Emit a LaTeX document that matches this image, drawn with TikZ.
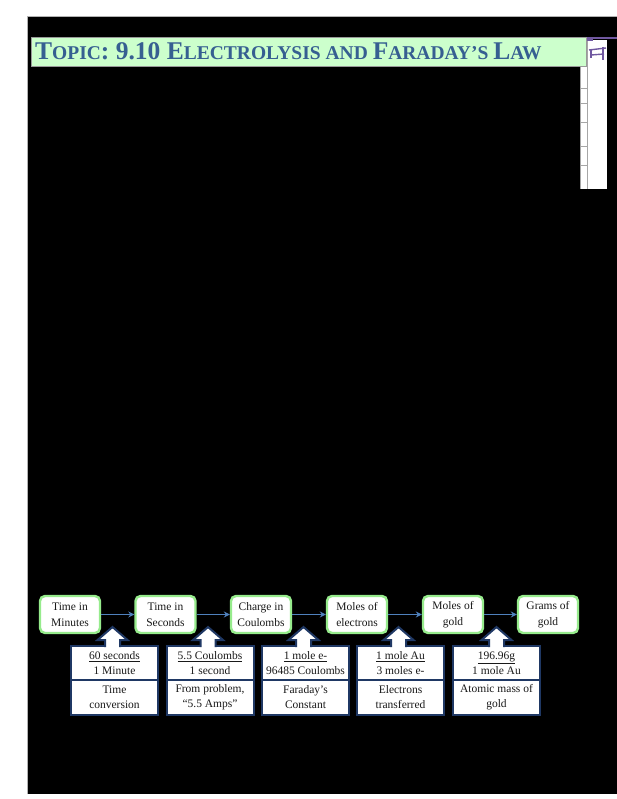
\documentclass[tikz,border=0pt]{standalone}
\usepackage{fontspec}
\setmainfont{Liberation Serif}
\usepackage{tikz}
\usetikzlibrary{arrows.meta}
\usetikzlibrary{positioning}

\definecolor{titleblue}{RGB}{54,95,145}
\definecolor{titlegreen}{RGB}{204,255,204}
\definecolor{boxgreen}{RGB}{150,235,140}
\definecolor{flowblue}{RGB}{79,129,189}
\definecolor{navy}{RGB}{31,56,100}
\definecolor{tabpurple}{RGB}{112,88,160}

\newcommand{\titlecap}[1]{{\fontsize{25.5}{25.5}\selectfont #1}}
\newcommand{\titlesc}[1]{{\fontsize{19.5}{19.5}\selectfont #1}}

\tikzset{
  quantity/.style={draw=boxgreen, line width=2.4pt, rounded corners=5pt, fill=white,
    minimum width=60pt, minimum height=37pt, inner sep=1pt, align=center,
    font=\fontsize{11.5}{15.5}\selectfont, text=black!90},
  factor/.style={draw=navy, line width=2pt, fill=white, minimum width=87pt,
    minimum height=34pt, inner sep=1pt, align=center,
    font=\fontsize{11.5}{15}\selectfont, text=black!90},
  flow/.style={draw=flowblue, line width=1.2pt, -{Stealth[length=6pt,width=6pt]}},
  blockarrow/.style={draw=navy, line width=2pt, fill=white, line join=miter}
}

\begin{document}
\begin{tikzpicture}[x=1pt,y=-1pt]
\useasboundingbox (0,0) rectangle (617,799);
\fill[white] (0,0) rectangle (617,799);
\fill[black] (27,17) rectangle (617,794);
\draw[gray!60, line width=1pt] (27,794) -- (27,17) -- (617,17);

\fill[white] (587,40) rectangle (607,189);
\fill[white] (580,67) rectangle (587,189);
\draw[gray!70, line width=0.8pt] (580,67) -- (580,189);
\draw[gray!70, line width=0.8pt] (587,40) -- (587,189);
\draw[gray!70, line width=0.8pt] (580,88) -- (587,88);
\draw[gray!70, line width=0.8pt] (580,103) -- (587,103);
\draw[gray!70, line width=0.8pt] (580,122) -- (587,122);
\draw[gray!70, line width=0.8pt] (580,146) -- (587,146);
\draw[gray!70, line width=0.8pt] (580,165) -- (587,165);
\draw[tabpurple, line width=1.2pt] (586,38) -- (617,38);
\fill[tabpurple] (586,37) rectangle (593,41);
\draw[tabpurple, line width=1.4pt] (589,50) -- (606,48);
\draw[tabpurple, line width=1.4pt] (591,55) -- (604,54);
\draw[tabpurple, line width=1.4pt] (603,47) -- (603,60);
\draw[tabpurple, line width=1.4pt] (591,50) -- (591,58);

\draw[gray!80, line width=1pt, fill=titlegreen] (31,38) rectangle (586,67);
\node[anchor=base west, inner sep=0pt, text=titleblue, font=\bfseries] (topic) at (35,60)
  {\titlecap{T}\titlesc{OPIC}\titlecap{: 9.10 E}\titlesc{LECTROLYSIS AND }\titlecap{F}\titlesc{ARADAY’S }\titlecap{L}\titlesc{AW}};

\node[quantity] (minutes) at (70,614.5) {Time in\\Minutes};
\node[quantity] (seconds) at (165.5,614.5) {Time in\\Seconds};
\node[quantity] (coulombs) at (261,614.5) {Charge in\\Coulombs};
\node[quantity] (electrons) at (357,614.5) {Moles of\\electrons};
\node[quantity] (molesau) at (453,614.5) {Moles of\\gold};
\node[quantity] (gramsau) at (548,614.5) {Grams of\\gold};

\draw[flow] (minutes) -- (seconds);
\draw[flow] (seconds) -- (coulombs);
\draw[flow] (coulombs) -- (electrons);
\draw[flow] (electrons) -- (molesau);
\draw[flow] (molesau) -- (gramsau);

\node[factor] (ratio1) at (114.5,663) {\underline{60 seconds}\\1 Minute};
\node[factor, minimum height=35pt, below=-2pt of ratio1] (why1) {Time\\conversion};
\node[factor] (ratio2) at (210,663) {\underline{5.5 Coulombs}\\1 second};
\node[factor, minimum height=35pt, below=-2pt of ratio2] (why2) {From problem,\\“5.5 Amps”};
\node[factor] (ratio3) at (305.5,663) {\underline{1 mole e-}\\96485 Coulombs};
\node[factor, minimum height=35pt, below=-2pt of ratio3] (why3) {Faraday’s\\Constant};
\node[factor] (ratio4) at (400.5,663) {\underline{1 mole Au}\\3 moles e-};
\node[factor, minimum height=35pt, below=-2pt of ratio4] (why4) {Electrons\\transferred};
\node[factor] (ratio5) at (496.5,663) {\underline{196.96g}\\1 mole Au};
\node[factor, minimum height=35pt, below=-2pt of ratio5] (why5) {Atomic mass of\\gold};

\draw[blockarrow] ([xshift=-9.5pt,yshift=-2pt]ratio1.north) -- ++(0,-7) -- ++(-7.5,0) -- ++(15,-13) -- ++(15,13) -- ++(-7.5,0) -- ++(0,7);
\draw[blockarrow] ([xshift=-9.5pt,yshift=-2pt]ratio2.north) -- ++(0,-7) -- ++(-7.5,0) -- ++(15,-13) -- ++(15,13) -- ++(-7.5,0) -- ++(0,7);
\draw[blockarrow] ([xshift=-9.5pt,yshift=-2pt]ratio3.north) -- ++(0,-7) -- ++(-7.5,0) -- ++(15,-13) -- ++(15,13) -- ++(-7.5,0) -- ++(0,7);
\draw[blockarrow] ([xshift=-9.5pt,yshift=-2pt]ratio4.north) -- ++(0,-7) -- ++(-7.5,0) -- ++(15,-13) -- ++(15,13) -- ++(-7.5,0) -- ++(0,7);
\draw[blockarrow] ([xshift=-7.5pt,yshift=-2pt]ratio5.north) -- ++(0,-7) -- ++(-7.5,0) -- ++(15,-13) -- ++(15,13) -- ++(-7.5,0) -- ++(0,7);
\end{tikzpicture}
\end{document}
